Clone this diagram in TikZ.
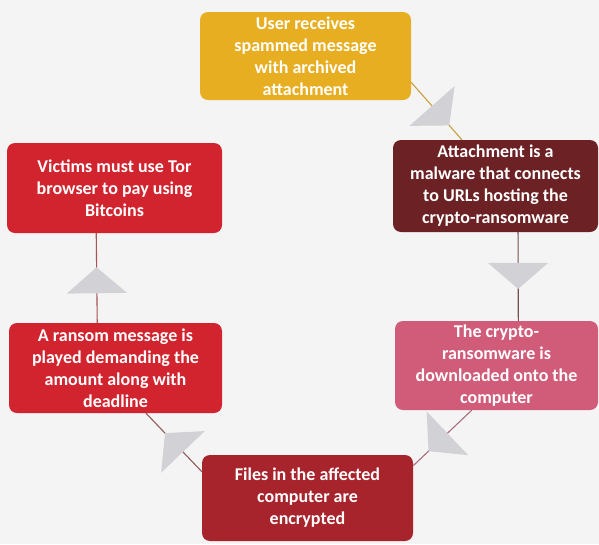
\documentclass[tikz,border=0pt]{standalone}
\usepackage{fontspec}
\setmainfont{Carlito}
\usetikzlibrary{arrows.meta,decorations.markings}

\definecolor{stageyellow}{RGB}{232,174,34}
\definecolor{stagemaroon}{RGB}{108,34,36}
\definecolor{stagepink}{RGB}{208,92,122}
\definecolor{stagebrick}{RGB}{168,36,44}
\definecolor{stagered}{RGB}{210,36,46}
\definecolor{tipgray}{RGB}{210,210,214}
\definecolor{paper}{RGB}{244,244,244}

\tikzset{
  stage/.style={fill=#1, rounded corners=8pt, text=white, align=center, inner sep=0pt},
  flow/.style={draw=#1, line width=1.1pt},
  tipat/.style={postaction=decorate, decoration={markings,
      mark=at position #1 with {\arrow{Triangle[width=60pt,length=26pt,color=tipgray,fill=tipgray]}}}}
}

\begin{document}
\begin{tikzpicture}[x=1pt, y=-1pt, every node/.style={font=\bfseries\fontsize{18}{22}\selectfont}]
  % page
  \fill[paper] (0,0) rectangle (599,544);
  \useasboundingbox (0,0) rectangle (599,544);

  % stages of the infection, clockwise from the top
  \node[stage=stageyellow, minimum width=211pt, minimum height=88pt] (recv) at (305.5,56)
    {User receives\\spammed message\\with archived\\attachment};
  \node[stage=stagemaroon, minimum width=205pt, minimum height=92pt] (malware) at (495.5,186)
    {Attachment is a\\malware that connects\\to URLs hosting the\\crypto-ransomware};
  \node[stage=stagepink, minimum width=203pt, minimum height=89pt] (download) at (496.5,365.5)
    {The crypto-\\ransomware is\\downloaded onto the\\computer};
  \node[stage=stagebrick, minimum width=211pt, minimum height=86pt] (encrypt) at (307.5,498)
    {Files in the affected\\computer are\\encrypted};
  \node[stage=stagered, minimum width=213pt, minimum height=90pt] (ransom) at (115.5,368)
    {A ransom message is\\played demanding the\\amount along with\\deadline};
  \node[stage=stagered, minimum width=215pt, minimum height=90pt] (tor) at (114.5,188)
    {Victims must use Tor\\browser to pay using\\Bitcoins};

  % connectors with the big grey tips
  \draw[flow=stageyellow!70!gray, tipat=0.75] (recv.-14) -- (malware.126);
  \draw[flow=stagemaroon!50!gray, tipat=0.64] (malware.-64) -- (download.64);
  \draw[flow=stagepink!50!gray, tipat=0.74] (download.-119) -- (encrypt.17);
  \draw[flow=stagebrick!40!gray, tipat=0.66] (encrypt.166) -- (ransom.-56);
  \draw[flow=stagered!50!gray, tipat=0.62] (ransom.112) -- (tor.-112);
\end{tikzpicture}
\end{document}
